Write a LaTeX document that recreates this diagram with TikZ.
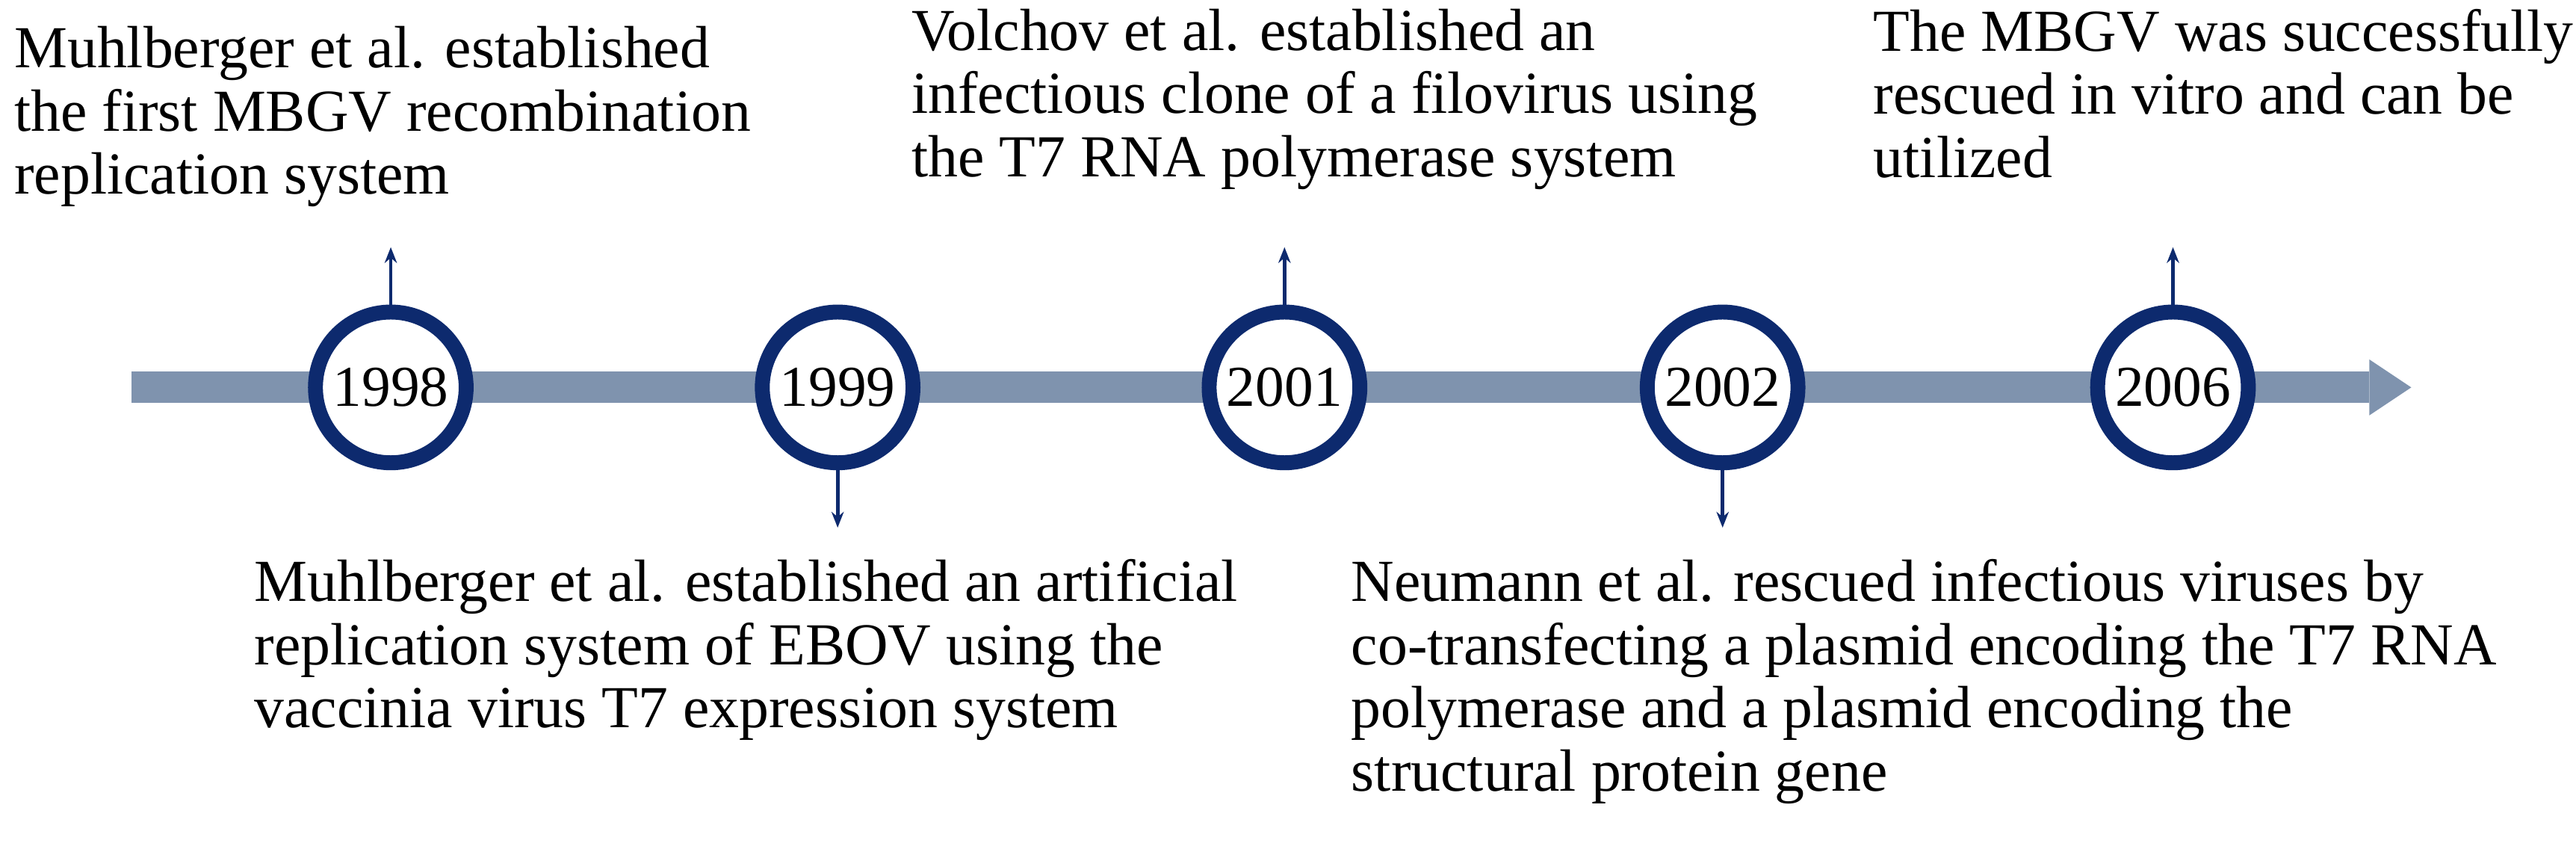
\documentclass[tikz,border=0pt]{standalone}
\usepackage{fontspec}
\setmainfont{Liberation Serif}
\usetikzlibrary{arrows.meta}
\definecolor{barc}{HTML}{7F93AE}
\definecolor{navy}{HTML}{0D2A6E}
\begin{document}
\begin{tikzpicture}[x=1pt,y=-1pt,
  yr/.style={circle,draw=navy,line width=8.5pt,fill=white,minimum size=86pt,inner sep=0pt,font=\fontsize{33}{33}\selectfont},
  lbl/.style={anchor=north west,align=left,inner sep=0pt,font=\fontsize{34}{36}\selectfont},
  con/.style={navy,line width=2pt,-{Stealth[length=9pt,width=7pt]}}]
\useasboundingbox (0,0) rectangle (1470,486);
\fill[barc] (75,212) rectangle (1352,230);
\fill[barc] (1352,205) -- (1376,221) -- (1352,237) -- cycle;
\node[yr] (a) at (223,221) {1998};
\node[yr] (b) at (478,221) {1999};
\node[yr] (c) at (733,221) {2001};
\node[yr] (d) at (983,221) {2002};
\node[yr] (e) at (1240,221) {2006};
\coordinate (ta) at (223,141);
\coordinate (tb) at (478,301);
\coordinate (tc) at (733,141);
\coordinate (td) at (983,301);
\coordinate (te) at (1240,141);
\draw[con] (a.north) -- (ta);
\draw[con] (b.south) -- (tb);
\draw[con] (c.north) -- (tc);
\draw[con] (d.south) -- (td);
\draw[con] (e.north) -- (te);
\node[lbl] (t1) at (8,15) {Muhlberger et al. established\\the first MBGV recombination\\replication system};
\node[lbl] (t2) at (520,5) {Volchov et al. established an\\infectious clone of a filovirus using\\the T7 RNA polymerase system};
\node[lbl] (t3) at (1069,5) {The MBGV was successfully\\rescued in vitro and can be\\utilized};
\node[lbl] (t4) at (145,319) {Muhlberger et al. established an artificial\\replication system of EBOV using the\\vaccinia virus T7 expression system};
\node[lbl] (t5) at (771,319) {Neumann et al. rescued infectious viruses by\\co-transfecting a plasmid encoding the T7 RNA\\polymerase and a plasmid encoding the\\structural protein gene};
\end{tikzpicture}
\end{document}
